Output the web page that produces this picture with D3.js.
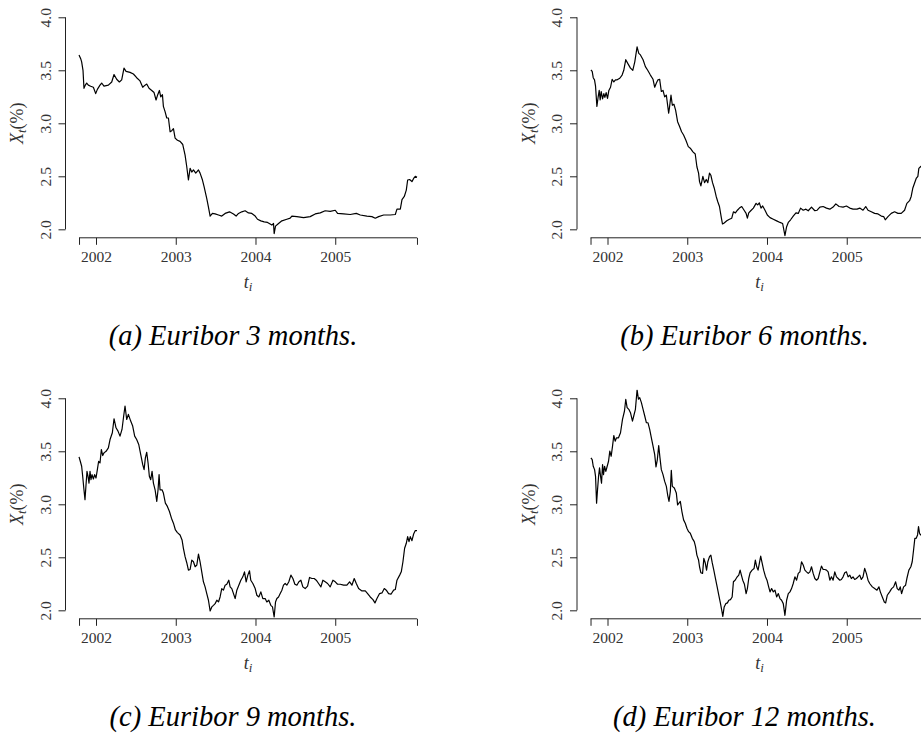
<!DOCTYPE html>
<html>
<head>
<meta charset="utf-8">
<script src="https://cdn.jsdelivr.net/npm/d3@7"></script>
<style>
  body { margin: 0; background: #fff; }
  text { font-family: "Liberation Serif", "Times New Roman", serif; fill: #333; }
</style>
</head>
<body>
<div id="chart"></div>
<script>
// Euribor rates, [decimal year, rate %]
const eur3m = [[2001.787,3.645],[2001.808,3.61],[2001.820,3.58],[2001.837,3.50],[2001.849,3.33],[2001.866,3.36],[2001.883,3.38],[2001.904,3.36],[2001.933,3.35],[2001.967,3.34],[2001.996,3.28],[2002.017,3.32],[2002.050,3.36],[2002.071,3.38],[2002.100,3.35],[2002.155,3.36],[2002.197,3.39],[2002.226,3.46],[2002.259,3.415],[2002.293,3.39],[2002.322,3.41],[2002.351,3.52],[2002.377,3.49],[2002.427,3.48],[2002.469,3.465],[2002.510,3.43],[2002.552,3.40],[2002.586,3.34],[2002.615,3.36],[2002.636,3.37],[2002.665,3.33],[2002.699,3.31],[2002.728,3.29],[2002.753,3.22],[2002.774,3.27],[2002.795,3.31],[2002.812,3.25],[2002.833,3.27],[2002.845,3.16],[2002.866,3.11],[2002.887,3.05],[2002.908,3.05],[2002.929,2.92],[2002.950,2.93],[2002.971,2.95],[2002.992,2.86],[2003.021,2.84],[2003.054,2.83],[2003.088,2.80],[2003.117,2.70],[2003.138,2.59],[2003.159,2.465],[2003.180,2.575],[2003.201,2.54],[2003.222,2.56],[2003.251,2.53],[2003.285,2.56],[2003.305,2.53],[2003.335,2.465],[2003.356,2.40],[2003.389,2.29],[2003.410,2.21],[2003.431,2.125],[2003.460,2.15],[2003.494,2.145],[2003.536,2.135],[2003.577,2.125],[2003.619,2.15],[2003.674,2.165],[2003.724,2.145],[2003.757,2.125],[2003.787,2.15],[2003.828,2.165],[2003.870,2.175],[2003.912,2.155],[2003.954,2.15],[2003.996,2.125],[2004.025,2.095],[2004.067,2.08],[2004.109,2.07],[2004.151,2.065],[2004.184,2.05],[2004.205,2.04],[2004.226,2.055],[2004.234,1.96],[2004.251,2.03],[2004.289,2.055],[2004.331,2.08],[2004.393,2.095],[2004.435,2.105],[2004.456,2.125],[2004.519,2.12],[2004.603,2.11],[2004.686,2.12],[2004.749,2.145],[2004.812,2.155],[2004.874,2.175],[2004.937,2.17],[2005.000,2.18],[2005.029,2.15],[2005.105,2.145],[2005.188,2.14],[2005.264,2.15],[2005.314,2.135],[2005.397,2.125],[2005.460,2.12],[2005.502,2.105],[2005.544,2.12],[2005.607,2.135],[2005.690,2.135],[2005.753,2.14],[2005.774,2.19],[2005.816,2.19],[2005.837,2.28],[2005.866,2.31],[2005.891,2.37],[2005.908,2.465],[2005.933,2.47],[2005.962,2.45],[2005.983,2.48],[2006.004,2.50],[2006.025,2.49]];

const eur6m = [[2001.792,3.503],[2001.808,3.49],[2001.821,3.43],[2001.837,3.41],[2001.850,3.35],[2001.867,3.16],[2001.883,3.25],[2001.896,3.31],[2001.908,3.22],[2001.921,3.30],[2001.938,3.23],[2001.954,3.28],[2001.967,3.245],[2001.983,3.29],[2002.000,3.235],[2002.017,3.31],[2002.038,3.34],[2002.058,3.415],[2002.079,3.39],[2002.100,3.41],[2002.121,3.41],[2002.154,3.425],[2002.183,3.455],[2002.204,3.50],[2002.229,3.60],[2002.254,3.565],[2002.288,3.52],[2002.317,3.50],[2002.342,3.58],[2002.371,3.72],[2002.392,3.66],[2002.413,3.645],[2002.446,3.60],[2002.475,3.535],[2002.504,3.50],[2002.538,3.455],[2002.571,3.415],[2002.592,3.34],[2002.613,3.38],[2002.633,3.41],[2002.654,3.415],[2002.675,3.30],[2002.696,3.31],[2002.717,3.25],[2002.738,3.265],[2002.767,3.095],[2002.779,3.16],[2002.796,3.265],[2002.813,3.17],[2002.833,3.18],[2002.854,3.125],[2002.879,3.015],[2002.904,2.97],[2002.929,2.92],[2002.954,2.89],[2002.983,2.84],[2003.013,2.78],[2003.038,2.765],[2003.071,2.73],[2003.100,2.71],[2003.121,2.59],[2003.142,2.53],[2003.154,2.45],[2003.171,2.41],[2003.196,2.50],[2003.217,2.44],[2003.238,2.47],[2003.258,2.44],[2003.279,2.53],[2003.296,2.51],[2003.317,2.44],[2003.338,2.39],[2003.363,2.31],[2003.383,2.26],[2003.404,2.215],[2003.425,2.12],[2003.442,2.05],[2003.463,2.06],[2003.496,2.08],[2003.529,2.095],[2003.558,2.105],[2003.579,2.165],[2003.604,2.155],[2003.629,2.18],[2003.654,2.20],[2003.683,2.215],[2003.713,2.18],[2003.738,2.15],[2003.754,2.105],[2003.771,2.155],[2003.796,2.175],[2003.829,2.20],[2003.863,2.245],[2003.883,2.23],[2003.904,2.25],[2003.925,2.20],[2003.946,2.22],[2003.975,2.18],[2004.004,2.135],[2004.038,2.11],[2004.079,2.095],[2004.121,2.08],[2004.163,2.065],[2004.196,2.055],[2004.225,1.94],[2004.246,2.025],[2004.267,2.065],[2004.296,2.09],[2004.329,2.125],[2004.363,2.155],[2004.392,2.15],[2004.421,2.20],[2004.454,2.18],[2004.488,2.19],[2004.517,2.175],[2004.558,2.21],[2004.600,2.175],[2004.629,2.18],[2004.663,2.21],[2004.704,2.215],[2004.746,2.20],[2004.788,2.19],[2004.829,2.21],[2004.863,2.24],[2004.904,2.215],[2004.954,2.21],[2004.996,2.22],[2005.038,2.20],[2005.079,2.19],[2005.129,2.19],[2005.163,2.20],[2005.204,2.18],[2005.238,2.215],[2005.267,2.18],[2005.308,2.165],[2005.350,2.15],[2005.392,2.145],[2005.433,2.125],[2005.463,2.12],[2005.483,2.09],[2005.517,2.12],[2005.558,2.15],[2005.600,2.165],[2005.642,2.15],[2005.683,2.15],[2005.725,2.18],[2005.754,2.245],[2005.788,2.27],[2005.808,2.31],[2005.829,2.39],[2005.850,2.435],[2005.871,2.48],[2005.892,2.50],[2005.904,2.575],[2005.925,2.59],[2005.954,2.61],[2006.017,2.62]];

const eur9m = [[2001.787,3.447],[2001.803,3.406],[2001.820,3.359],[2001.833,3.264],[2001.849,3.137],[2001.862,3.043],[2001.874,3.175],[2001.887,3.311],[2001.900,3.264],[2001.912,3.20],[2001.925,3.311],[2001.937,3.232],[2001.950,3.28],[2001.967,3.239],[2001.983,3.28],[2002.000,3.248],[2002.017,3.327],[2002.033,3.406],[2002.050,3.39],[2002.067,3.517],[2002.084,3.46],[2002.100,3.485],[2002.126,3.50],[2002.155,3.532],[2002.176,3.611],[2002.205,3.675],[2002.226,3.807],[2002.251,3.722],[2002.276,3.69],[2002.301,3.643],[2002.326,3.706],[2002.347,3.833],[2002.364,3.927],[2002.385,3.80],[2002.406,3.848],[2002.435,3.785],[2002.460,3.738],[2002.485,3.643],[2002.510,3.611],[2002.536,3.564],[2002.561,3.469],[2002.586,3.374],[2002.603,3.327],[2002.619,3.438],[2002.636,3.491],[2002.653,3.39],[2002.669,3.264],[2002.686,3.232],[2002.703,3.311],[2002.720,3.20],[2002.741,3.137],[2002.762,3.027],[2002.778,3.137],[2002.791,3.28],[2002.803,3.137],[2002.828,3.137],[2002.845,3.106],[2002.870,3.011],[2002.895,2.98],[2002.921,2.932],[2002.946,2.869],[2002.971,2.822],[2002.996,2.758],[2003.021,2.733],[2003.054,2.711],[2003.079,2.664],[2003.096,2.585],[2003.117,2.506],[2003.138,2.449],[2003.159,2.379],[2003.180,2.385],[2003.201,2.474],[2003.222,2.458],[2003.243,2.411],[2003.264,2.427],[2003.285,2.531],[2003.305,2.458],[2003.326,2.363],[2003.347,2.269],[2003.368,2.221],[2003.389,2.158],[2003.410,2.095],[2003.431,1.994],[2003.452,2.032],[2003.473,2.047],[2003.494,2.063],[2003.515,2.095],[2003.536,2.079],[2003.556,2.126],[2003.577,2.205],[2003.598,2.19],[2003.619,2.237],[2003.640,2.246],[2003.665,2.284],[2003.682,2.221],[2003.703,2.205],[2003.724,2.158],[2003.745,2.111],[2003.766,2.19],[2003.791,2.237],[2003.816,2.284],[2003.841,2.316],[2003.862,2.363],[2003.883,2.269],[2003.904,2.332],[2003.925,2.373],[2003.941,2.284],[2003.967,2.253],[2003.996,2.205],[2004.017,2.142],[2004.042,2.126],[2004.067,2.174],[2004.092,2.111],[2004.121,2.111],[2004.142,2.079],[2004.167,2.095],[2004.192,2.047],[2004.213,2.032],[2004.234,1.937],[2004.251,2.079],[2004.268,2.111],[2004.289,2.126],[2004.310,2.158],[2004.331,2.19],[2004.351,2.237],[2004.372,2.253],[2004.393,2.237],[2004.418,2.269],[2004.444,2.332],[2004.469,2.30],[2004.494,2.246],[2004.519,2.237],[2004.544,2.269],[2004.569,2.284],[2004.594,2.221],[2004.623,2.205],[2004.653,2.228],[2004.678,2.31],[2004.707,2.30],[2004.736,2.30],[2004.762,2.284],[2004.791,2.253],[2004.820,2.221],[2004.845,2.284],[2004.874,2.269],[2004.904,2.253],[2004.937,2.221],[2004.971,2.284],[2005.000,2.269],[2005.029,2.246],[2005.063,2.246],[2005.105,2.237],[2005.146,2.237],[2005.180,2.269],[2005.209,2.237],[2005.238,2.30],[2005.264,2.253],[2005.293,2.205],[2005.335,2.183],[2005.377,2.183],[2005.406,2.158],[2005.439,2.126],[2005.473,2.101],[2005.498,2.07],[2005.523,2.111],[2005.556,2.158],[2005.586,2.164],[2005.615,2.205],[2005.640,2.19],[2005.669,2.158],[2005.699,2.152],[2005.732,2.19],[2005.753,2.196],[2005.774,2.284],[2005.808,2.332],[2005.828,2.363],[2005.849,2.458],[2005.870,2.585],[2005.891,2.632],[2005.908,2.695],[2005.925,2.648],[2005.941,2.695],[2005.962,2.657],[2005.983,2.72],[2006.004,2.752],[2006.025,2.752]];

const eur12m = [[2001.792,3.438],[2001.808,3.422],[2001.821,3.359],[2001.838,3.327],[2001.850,3.264],[2001.863,3.011],[2001.875,3.137],[2001.888,3.264],[2001.900,3.343],[2001.913,3.264],[2001.925,3.20],[2001.938,3.374],[2001.950,3.28],[2001.963,3.359],[2001.979,3.311],[2001.996,3.359],[2002.013,3.406],[2002.029,3.501],[2002.046,3.453],[2002.063,3.548],[2002.079,3.649],[2002.096,3.595],[2002.113,3.627],[2002.138,3.627],[2002.163,3.675],[2002.188,3.801],[2002.213,3.88],[2002.229,3.991],[2002.246,3.912],[2002.267,3.896],[2002.288,3.864],[2002.313,3.785],[2002.329,3.833],[2002.350,3.896],[2002.371,4.079],[2002.388,3.991],[2002.404,4.006],[2002.425,3.959],[2002.446,3.896],[2002.467,3.833],[2002.488,3.769],[2002.508,3.769],[2002.529,3.706],[2002.550,3.627],[2002.571,3.548],[2002.592,3.469],[2002.608,3.352],[2002.625,3.422],[2002.642,3.554],[2002.658,3.438],[2002.675,3.327],[2002.696,3.28],[2002.717,3.216],[2002.738,3.169],[2002.754,3.09],[2002.771,3.027],[2002.788,3.122],[2002.800,3.321],[2002.813,3.169],[2002.838,3.153],[2002.863,3.106],[2002.879,2.995],[2002.896,3.011],[2002.913,3.027],[2002.933,2.932],[2002.954,2.853],[2002.975,2.821],[2002.996,2.774],[2003.017,2.742],[2003.038,2.727],[2003.063,2.679],[2003.088,2.648],[2003.104,2.60],[2003.121,2.521],[2003.142,2.474],[2003.154,2.411],[2003.171,2.354],[2003.192,2.348],[2003.208,2.49],[2003.225,2.449],[2003.242,2.379],[2003.258,2.458],[2003.279,2.506],[2003.296,2.521],[2003.313,2.449],[2003.333,2.379],[2003.354,2.30],[2003.375,2.221],[2003.396,2.142],[2003.417,2.063],[2003.433,2.0],[2003.446,1.943],[2003.463,2.032],[2003.483,2.063],[2003.504,2.07],[2003.521,2.095],[2003.542,2.101],[2003.563,2.126],[2003.579,2.269],[2003.600,2.284],[2003.621,2.31],[2003.646,2.332],[2003.663,2.379],[2003.679,2.332],[2003.696,2.284],[2003.717,2.246],[2003.738,2.158],[2003.754,2.205],[2003.771,2.30],[2003.788,2.354],[2003.813,2.379],[2003.838,2.395],[2003.854,2.474],[2003.871,2.411],[2003.888,2.379],[2003.904,2.442],[2003.921,2.512],[2003.938,2.449],[2003.958,2.379],[2003.979,2.322],[2004.000,2.284],[2004.021,2.221],[2004.038,2.174],[2004.058,2.205],[2004.079,2.174],[2004.100,2.19],[2004.121,2.126],[2004.142,2.158],[2004.163,2.111],[2004.183,2.095],[2004.204,2.063],[2004.225,1.953],[2004.246,2.095],[2004.267,2.158],[2004.288,2.174],[2004.308,2.205],[2004.329,2.253],[2004.350,2.316],[2004.371,2.284],[2004.392,2.348],[2004.413,2.363],[2004.433,2.458],[2004.454,2.427],[2004.475,2.379],[2004.496,2.363],[2004.517,2.348],[2004.538,2.363],[2004.558,2.411],[2004.579,2.348],[2004.600,2.30],[2004.621,2.284],[2004.642,2.30],[2004.663,2.363],[2004.683,2.417],[2004.704,2.385],[2004.725,2.385],[2004.746,2.379],[2004.767,2.363],[2004.788,2.284],[2004.808,2.316],[2004.829,2.284],[2004.850,2.363],[2004.871,2.316],[2004.892,2.30],[2004.913,2.284],[2004.933,2.291],[2004.954,2.316],[2004.975,2.354],[2004.996,2.363],[2005.017,2.316],[2005.038,2.332],[2005.058,2.30],[2005.079,2.316],[2005.100,2.291],[2005.121,2.30],[2005.142,2.316],[2005.163,2.332],[2005.183,2.291],[2005.204,2.316],[2005.225,2.395],[2005.246,2.348],[2005.267,2.284],[2005.288,2.253],[2005.321,2.221],[2005.350,2.205],[2005.379,2.19],[2005.404,2.221],[2005.421,2.174],[2005.446,2.126],[2005.471,2.079],[2005.488,2.07],[2005.508,2.142],[2005.538,2.174],[2005.563,2.205],[2005.588,2.221],[2005.613,2.269],[2005.633,2.205],[2005.654,2.19],[2005.671,2.221],[2005.688,2.158],[2005.713,2.221],[2005.738,2.237],[2005.754,2.30],[2005.779,2.379],[2005.804,2.411],[2005.821,2.458],[2005.838,2.569],[2005.854,2.679],[2005.871,2.679],[2005.888,2.711],[2005.900,2.79],[2005.913,2.727],[2005.925,2.711],[2005.975,2.742],[2006.017,2.758]];

const yTicks = [2.0, 2.5, 3.0, 3.5, 4.0];
const yearTicks = [2002, 2003, 2004, 2005];
const captions = ["(a) Euribor 3 months.", "(b) Euribor 6 months.",
                  "(c) Euribor 9 months.", "(d) Euribor 12 months."];

const width = 921, height = 735;
const plot = { left: 65.5, right: 430.5, top: 8.8, bottom: 237.8 };

const panels = [
  { data: eur3m,  caption: captions[0], dx: 0,     dy: 0 },
  { data: eur6m,  caption: captions[1], dx: 511.5, dy: 0 },
  { data: eur9m,  caption: captions[2], dx: 0,     dy: 381 },
  { data: eur12m, caption: captions[3], dx: 511.5, dy: 381 }
];

const svg = d3.select("#chart")
  .append("svg")
  .attr("width", width)
  .attr("height", height);

// shared time range, R-style 4% padding on both scales
const tExt = d3.extent([].concat(eur3m, eur6m, eur9m, eur12m), d => d[0]);
const tPad = (tExt[1] - tExt[0]) * 0.04;
const x = d3.scaleLinear()
  .domain([tExt[0] - tPad, tExt[1] + tPad])
  .range([plot.left, plot.right]);

const yPad = (4 - 2) * 0.04;
const y = d3.scaleLinear()
  .domain([2 - yPad, 4 + yPad])
  .range([plot.bottom, plot.top]);

const line = d3.line()
  .x(d => x(d[0]))
  .y(d => y(d[1]));

panels.forEach((p, i) => {
  const g = svg.append("g")
    .attr("transform", `translate(${p.dx},${p.dy})`);

  g.append("clipPath")
    .attr("id", "clip" + i)
    .append("rect")
    .attr("x", plot.left)
    .attr("y", plot.top)
    .attr("width", plot.right - plot.left)
    .attr("height", plot.bottom - plot.top);

  g.append("path")
    .datum(p.data)
    .attr("clip-path", `url(#clip${i})`)
    .attr("d", line)
    .attr("fill", "none")
    .attr("stroke", "#000")
    .attr("stroke-width", 1.2)
    .attr("stroke-linejoin", "round");

  // x axis: ticks at first obs, years, last obs
  const xa = g.append("g")
    .attr("transform", `translate(0,${plot.bottom})`)
    .call(d3.axisBottom(x)
      .tickValues([tExt[0], ...yearTicks, tExt[1]])
      .tickFormat(d => yearTicks.includes(d) ? d : "")
      .tickSize(7)
      .tickPadding(6)
      .tickSizeOuter(0));
  xa.select(".domain").remove();
  xa.append("line")
    .attr("x1", x(tExt[0])).attr("x2", x(tExt[1]))
    .attr("stroke", "#222");
  xa.selectAll(".tick line").attr("stroke", "#222");
  xa.selectAll(".tick text")
    .attr("fill", "#333")
    .style("font-size", "15.5px")
    .style("font-family", "Liberation Serif, serif");

  // y axis, labels parallel to the axis
  const ya = g.append("g")
    .attr("transform", `translate(${plot.left},0)`)
    .call(d3.axisLeft(y)
      .tickValues(yTicks)
      .tickFormat(d3.format(".1f"))
      .tickSize(7)
      .tickSizeOuter(0));
  ya.select(".domain").remove();
  ya.append("line")
    .attr("y1", y(yTicks[0])).attr("y2", y(yTicks[yTicks.length - 1]))
    .attr("stroke", "#222");
  ya.selectAll(".tick line").attr("stroke", "#222");
  ya.selectAll(".tick text")
    .attr("x", 0)
    .attr("dy", 0)
    .attr("text-anchor", "middle")
    .attr("transform", "translate(-15,0) rotate(-90)")
    .attr("fill", "#333")
    .style("font-size", "15.5px")
    .style("font-family", "Liberation Serif, serif");

  // axis titles
  const xt = g.append("text")
    .attr("x", (plot.left + plot.right) / 2)
    .attr("y", 288)
    .attr("text-anchor", "middle")
    .style("font-size", "18px");
  xt.append("tspan").style("font-style", "italic").text("t");
  xt.append("tspan").style("font-style", "italic").style("font-size", "13px")
    .attr("dy", 3).text("i");

  const yt = g.append("text")
    .attr("transform", `translate(23,${y(3)}) rotate(-90)`)
    .attr("text-anchor", "middle")
    .style("font-size", "18px");
  yt.append("tspan").style("font-style", "italic").text("X");
  yt.append("tspan").style("font-style", "italic").style("font-size", "13px")
    .attr("dy", 3).text("t");
  yt.append("tspan").attr("dy", -3).text("(%)");

  // caption
  g.append("text")
    .attr("x", 233)
    .attr("y", 345)
    .attr("text-anchor", "middle")
    .style("font-size", "28.5px")
    .style("font-style", "italic")
    .style("fill", "#000")
    .text(p.caption);
});
</script>
</body>
</html>
